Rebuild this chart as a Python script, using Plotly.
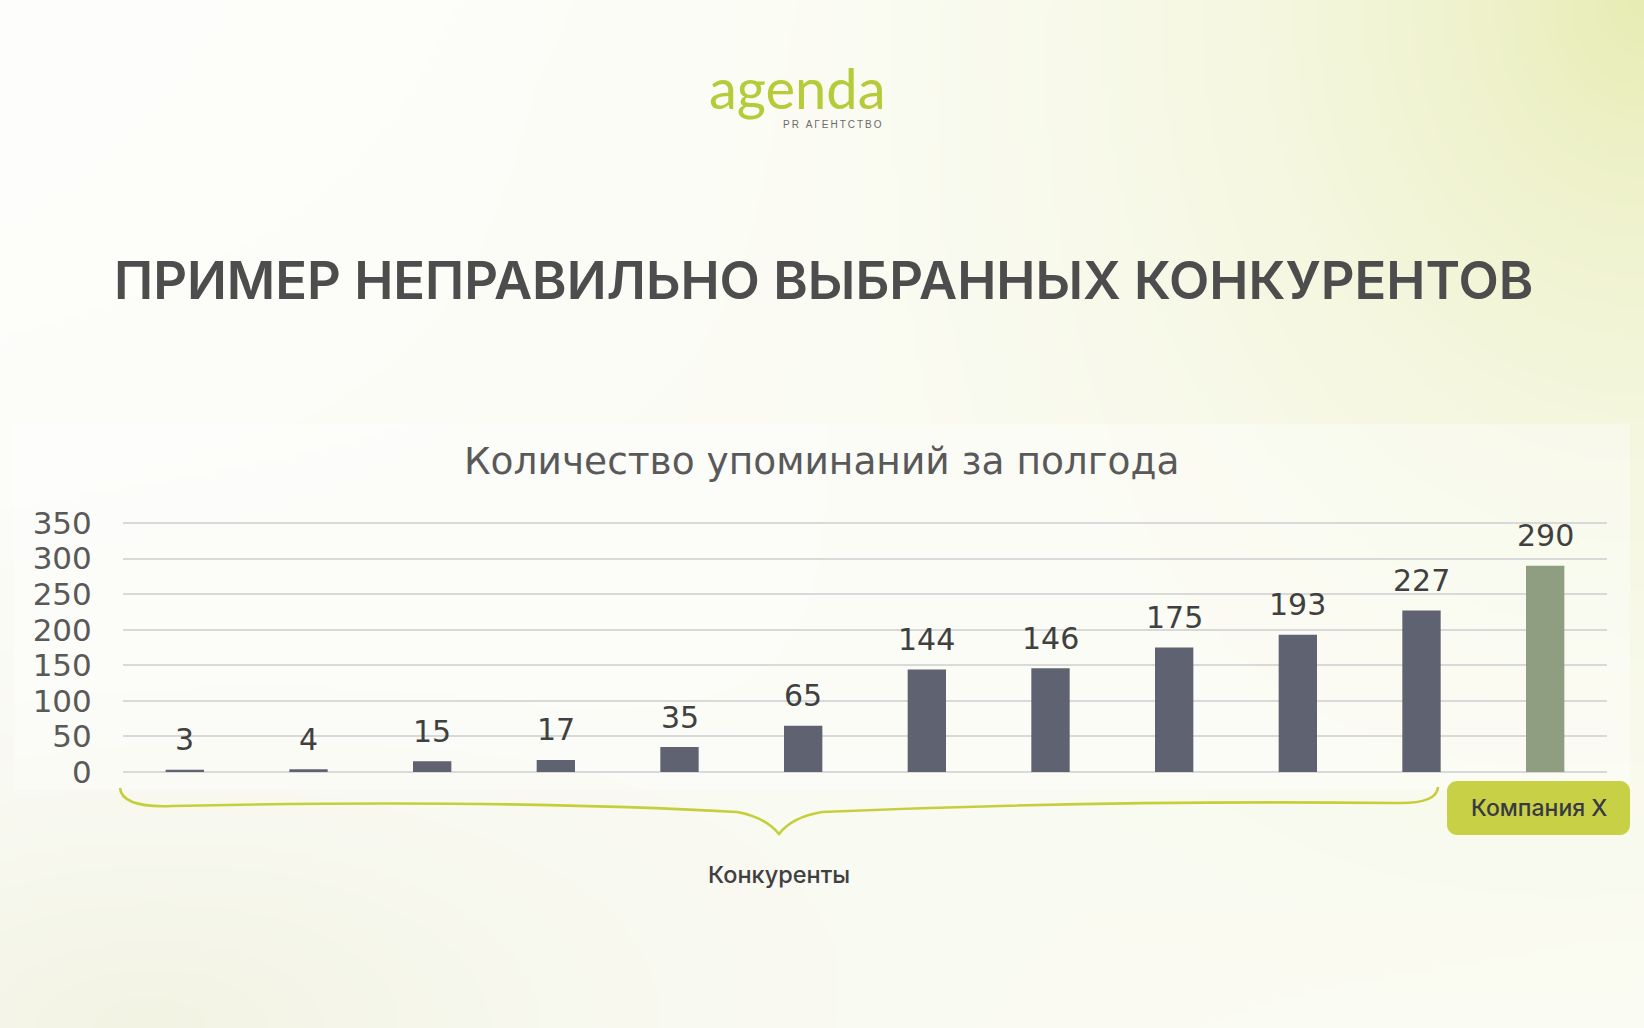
import zlib, struct, base64
import numpy as np
import plotly.graph_objects as go

# ---------------- data ----------------
categories = ["Конкурент 1", "Конкурент 2", "Конкурент 3", "Конкурент 4", "Конкурент 5",
              "Конкурент 6", "Конкурент 7", "Конкурент 8", "Конкурент 9", "Конкурент 10",
              "Конкурент 11", "Компания X"]
mentions = [3, 4, 15, 17, 35, 65, 144, 146, 175, 193, 227, 290]
is_company = [False] * 11 + [True]
y_ticks = [0, 50, 100, 150, 200, 250, 300, 350]

page_title = "ПРИМЕР НЕПРАВИЛЬНО ВЫБРАННЫХ КОНКУРЕНТОВ"
chart_title = "Количество упоминаний за полгода"
group_label = "Конкуренты"
company_label = "Компания X"

# ---------------- page geometry ----------------
WIDTH, HEIGHT = 1644, 1028
ML, MR, MT, MB = 123, 37, 520, 256
PW = WIDTH - ML - MR
PH = HEIGHT - MT - MB
Y_TOP = 350 * PH / 249.0   # 350 units span 249 px


def px(x):
    return (x - ML) / PW


def py(y):
    return (HEIGHT - MB - y) / PH


# ---------------- background gradient image ----------------
def make_bg():
    w, h = 411, 257
    xs = (np.arange(w) + 0.5) * WIDTH / w
    ys = (np.arange(h) + 0.5) * HEIGHT / h
    X, Y = np.meshgrid(xs, ys)
    img = np.ones((h, w, 3)) * 255.0
    # top-right glow
    d1 = np.sqrt(((X - 1644) / 470) ** 2 + ((Y - 0) / 560) ** 2)
    t1 = np.exp(-1.1 * d1)
    c1 = np.array([231, 236, 178], dtype=float)
    # bottom-left glow
    d2 = np.sqrt(((X - 150) / 650) ** 2 + ((Y - 1028) / 330) ** 2)
    t2 = 0.85 * np.exp(-d2)
    c2 = np.array([240, 241, 222], dtype=float)
    for c, t in ((c1, t1), (c2, t2)):
        img = img * (1 - t[..., None]) + c[None, None, :] * t[..., None]
    img = np.clip(img, 0, 255).astype(np.uint8)
    raw = b"".join(b"\x00" + img[r].tobytes() for r in range(h))

    def chunk(tag, data):
        c = struct.pack(">I", len(data)) + tag + data
        return c + struct.pack(">I", zlib.crc32(tag + data) & 0xFFFFFFFF)

    png = (b"\x89PNG\r\n\x1a\n"
           + chunk(b"IHDR", struct.pack(">IIBBBBB", w, h, 8, 2, 0, 0, 0))
           + chunk(b"IDAT", zlib.compress(raw, 9))
           + chunk(b"IEND", b""))
    return "data:image/png;base64," + base64.b64encode(png).decode()


bg_src = make_bg()

# ---------------- figure ----------------
bar_colors = ["#8f9e80" if c else "#5f6270" for c in is_company]
x_pos = list(range(len(categories)))

fig = go.Figure()
fig.add_trace(go.Bar(
    x=x_pos, y=mentions, marker=dict(color=bar_colors, line=dict(width=0)),
    hovertext=categories, hoverinfo="text+y", showlegend=False,
))

annotations = []
# data labels
for xi, v in zip(x_pos, mentions):
    annotations.append(dict(
        x=xi, y=v, xref="x", yref="y", text=str(v), showarrow=False,
        yanchor="middle", xanchor="center", yshift=30,
        font=dict(family="DejaVu Sans", size=30, color="#404040"),
    ))

# logo
annotations.append(dict(
    x=px(797), y=py(88), xref="paper", yref="paper", text="agenda", showarrow=False,
    xanchor="center", yanchor="middle",
    font=dict(family="Lato", size=56, color="#b6cb3a"),
))
annotations.append(dict(
    x=px(884), y=py(125), xref="paper", yref="paper",
    text="P\u2009R\u2009 \u2009А\u2009Г\u2009Е\u2009Н\u2009Т\u2009С\u2009Т\u2009В\u2009О",
    showarrow=False, xanchor="right", yanchor="middle",
    font=dict(family="Liberation Sans", size=10, color="#6a6a6a"),
))
# page title
annotations.append(dict(
    x=px(823), y=py(280), xref="paper", yref="paper", text=page_title, showarrow=False,
    xanchor="center", yanchor="middle",
    font=dict(family="Inter", size=52.5, color="#4d4d4d", weight=600),
))
# chart title
annotations.append(dict(
    x=px(821), y=py(461), xref="paper", yref="paper", text=chart_title, showarrow=False,
    xanchor="center", yanchor="middle",
    font=dict(family="DejaVu Sans", size=37.5, color="#595959"),
))
# group label
annotations.append(dict(
    x=px(779), y=py(874), xref="paper", yref="paper", text=group_label, showarrow=False,
    xanchor="center", yanchor="middle",
    font=dict(family="Inter", size=23.5, color="#404040", weight=500),
))
# company label
annotations.append(dict(
    x=px(1539), y=py(808), xref="paper", yref="paper", text=company_label, showarrow=False,
    xanchor="center", yanchor="middle",
    font=dict(family="Inter", size=23, color="#3a3a44", weight=500),
))

# brace path (pixel coords -> paper)
brace_pts = [
    ("M", [(120, 788)]),
    ("Q", [(122, 808), (172, 806)]),
    ("Q", [(500, 799), (737, 812)]),
    ("Q", [(765, 817), (779, 834)]),
    ("Q", [(792, 817), (822, 812)]),
    ("Q", [(1100, 800), (1396, 803)]),
    ("Q", [(1437, 804), (1438, 787)]),
]
path = " ".join(cmd + " " + " ".join(f"{px(x):.5f},{py(y):.5f}" for x, y in pts)
                for cmd, pts in brace_pts)


def rounded_rect(x0, y0, x1, y1, r):
    k = 0.45
    p = [f"M {px(x0 + r):.5f},{py(y0):.5f}",
         f"L {px(x1 - r):.5f},{py(y0):.5f}",
         f"C {px(x1 - r * k):.5f},{py(y0):.5f} {px(x1):.5f},{py(y0 + r * k):.5f} {px(x1):.5f},{py(y0 + r):.5f}",
         f"L {px(x1):.5f},{py(y1 - r):.5f}",
         f"C {px(x1):.5f},{py(y1 - r * k):.5f} {px(x1 - r * k):.5f},{py(y1):.5f} {px(x1 - r):.5f},{py(y1):.5f}",
         f"L {px(x0 + r):.5f},{py(y1):.5f}",
         f"C {px(x0 + r * k):.5f},{py(y1):.5f} {px(x0):.5f},{py(y1 - r * k):.5f} {px(x0):.5f},{py(y1 - r):.5f}",
         f"L {px(x0):.5f},{py(y0 + r):.5f}",
         f"C {px(x0):.5f},{py(y0 + r * k):.5f} {px(x0 + r * k):.5f},{py(y0):.5f} {px(x0 + r):.5f},{py(y0):.5f} Z"]
    return " ".join(p)


shapes = [
    # soft white panel behind the chart image
    dict(type="rect", xref="paper", yref="paper", layer="below",
         x0=px(14), x1=px(1630), y0=py(790), y1=py(424),
         fillcolor="rgba(255,255,255,0.4)", line=dict(width=0)),
    dict(type="path", xref="paper", yref="paper", path=path,
         line=dict(color="#c5cf3c", width=2.6), layer="above"),
    dict(type="path", xref="paper", yref="paper",
         path=rounded_rect(1447, 781, 1630, 835, 10),
         fillcolor="#c8d046", line=dict(width=0), layer="below"),
]

fig.update_layout(
    width=WIDTH, height=HEIGHT,
    margin=dict(l=ML, r=MR, t=MT, b=MB, pad=0),
    paper_bgcolor="white", plot_bgcolor="rgba(0,0,0,0)",
    bargap=0.69,
    showlegend=False,
    annotations=annotations,
    shapes=shapes,
    images=[dict(source=bg_src, xref="paper", yref="paper",
                 x=px(0), y=py(0), sizex=WIDTH / PW, sizey=HEIGHT / PH,
                 xanchor="left", yanchor="top", sizing="stretch", layer="below")],
    xaxis=dict(range=[-0.5, len(categories) - 0.5], showticklabels=False, showgrid=False,
               zeroline=False, showline=False, fixedrange=True),
    yaxis=dict(range=[0, Y_TOP], tickvals=y_ticks, ticktext=[str(t) for t in y_ticks],
               showgrid=True, gridcolor="#d9d9d9", gridwidth=1.5,
               zeroline=True, zerolinecolor="#d9d9d9", zerolinewidth=1.5,
               showline=False, ticks="outside", ticklen=24, tickcolor="rgba(0,0,0,0)",
               tickfont=dict(family="DejaVu Sans", size=31, color="#595959"),
               fixedrange=True),
)

fig.write_html("out.html")
